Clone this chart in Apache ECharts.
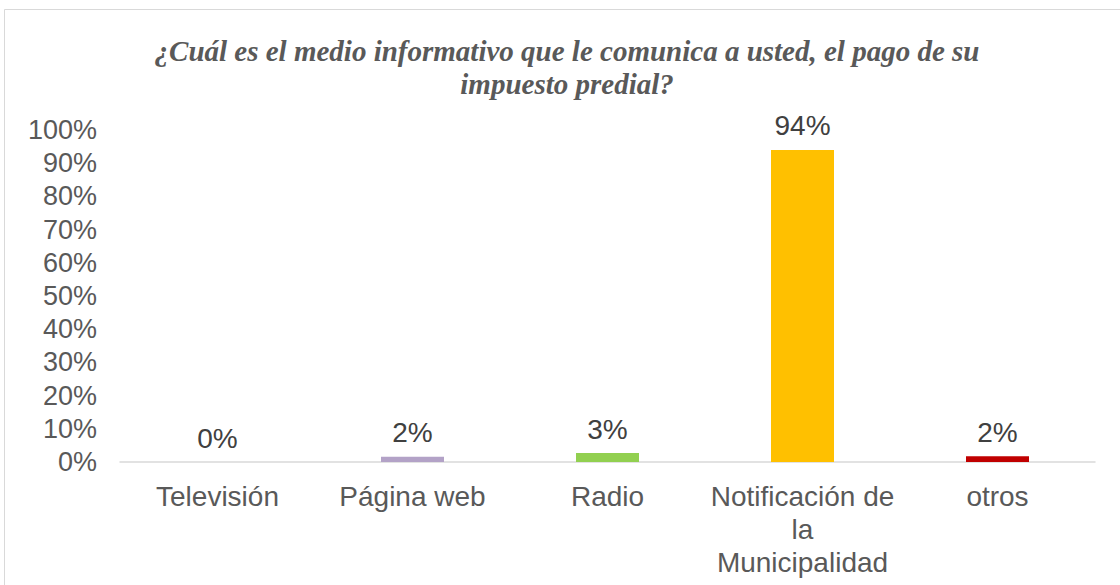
<!DOCTYPE html>
<html>
<head>
<meta charset="utf-8">
<script src="https://cdn.jsdelivr.net/npm/echarts@6/dist/echarts.min.js"></script>
<style>
  html, body { margin: 0; padding: 0; background: #fff; }
  #chart { width: 1120px; height: 585px; }
</style>
</head>
<body>
<div id="chart"></div>
<script>
// datos
const categories = ["Televisión", "Página web", "Radio", "Notificación de la Municipalidad", "otros"];
const values = [0, 0.016, 0.027, 0.94, 0.017];
const barColors = ["#4472c4", "#b3a2c7", "#92d050", "#ffc000", "#c00000"];
const yTicks = [0, 0.1, 0.2, 0.3, 0.4, 0.5, 0.6, 0.7, 0.8, 0.9, 1];

const myChart = echarts.init(document.getElementById("chart"), null, { renderer: "svg" });

const option = {
  animation: false,
  title: {
    text: "¿Cuál es el medio informativo que le comunica a usted, el pago de su\nimpuesto predial?",
    left: 562,
    top: 29,
    textAlign: "center",
    textStyle: {
      fontFamily: "Liberation Serif",
      fontStyle: "italic",
      fontWeight: "bold",
      fontSize: 29,
      lineHeight: 33,
      color: "#595959",
    },
  },
  // marco exterior
  graphic: [
    {
      type: "rect",
      shape: { x: 4.5, y: 9.5, width: 1130, height: 600 },
      style: { fill: "none", stroke: "#d9d9d9", lineWidth: 1 },
      silent: true,
    },
  ],
  grid: { left: 120, right: 25, top: 130, bottom: 123 },
  xAxis: {
    type: "category",
    data: categories,
    axisLine: { lineStyle: { color: "#d9d9d9", width: 1.5 } },
    axisTick: { show: false },
    axisLabel: {
      margin: 18,
      fontFamily: "Liberation Sans",
      fontSize: 28,
      lineHeight: 33,
      color: "#595959",
      interval: 0,
      formatter: (v) => v.replace("Notificación de la Municipalidad", "Notificación de\nla\nMunicipalidad"),
    },
  },
  yAxis: {
    type: "value",
    min: yTicks[0],
    max: yTicks[yTicks.length - 1],
    interval: 0.1,
    splitLine: { show: false },
    axisLine: { show: false },
    axisTick: { show: false },
    axisLabel: {
      margin: 23,
      fontFamily: "Liberation Sans",
      fontSize: 27,
      color: "#595959",
      formatter: (v) => Math.round(v * 100) + "%",
    },
  },
  series: [
    {
      type: "bar",
      barWidth: 63,
      data: values.map((v, i) => ({ value: v, itemStyle: { color: barColors[i] } })),
      label: {
        show: true,
        position: "top",
        distance: 10,
        fontFamily: "Liberation Sans",
        fontSize: 28,
        color: "#404040",
        formatter: (p) => Math.round(p.value * 100) + "%",
      },
    },
  ],
};

option && myChart.setOption(option);
</script>
</body>
</html>
